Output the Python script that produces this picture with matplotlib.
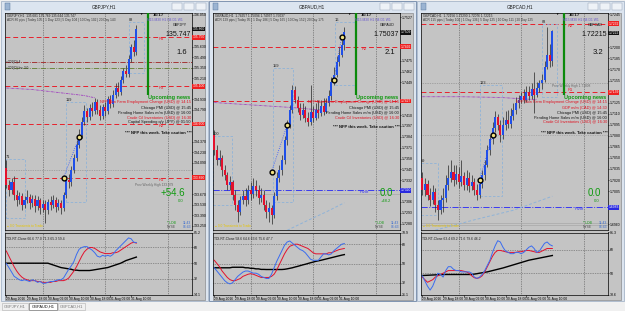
import numpy as np
import matplotlib
matplotlib.use("Agg")
import matplotlib.pyplot as plt
from matplotlib.patches import Rectangle

plt.rcParams['font.family'] = ['Liberation Sans', 'DejaVu Sans']

W, H = 625, 311

# shared H1 time axis: bar 0 = 29 Aug 10:00
date_pos = [0, 8, 16, 24, 32, 40, 48]
date_text = ["29 Aug 2016", "29 Aug 18:00", "30 Aug 02:00", "30 Aug 10:00",
             "30 Aug 18:00", "31 Aug 02:00", "31 Aug 10:00"]
day_breaks = [14, 38, 62]
news_bar = 54.5

# ---------------- GBPJPY ----------------
gj_open0 = 134.02
gj_close = [133.79, 133.73, 133.83, 133.66, 133.60, 133.65, 133.53, 133.60, 133.63, 133.56,
            133.61, 133.52, 133.60, 133.49, 133.54, 133.46, 133.57, 133.53, 133.60, 133.50,
            133.56, 133.49, 133.66, 133.86, 133.83, 133.99, 134.15, 134.33, 134.46, 134.63,
            134.77, 134.69, 134.82, 134.77, 134.89, 134.79, 134.71, 134.83, 134.77, 134.93,
            134.87, 134.99, 135.08, 135.03, 135.19, 135.30, 135.26, 135.46, 135.62, 135.56,
            135.86]
gj_high = [134.13, 133.86, 133.89, 133.91, 133.73, 133.70, 133.69, 133.65, 133.73, 133.67,
           133.66, 133.66, 133.65, 133.62, 133.60, 133.60, 133.61, 133.65, 133.66, 133.63,
           133.61, 133.60, 133.70, 133.91, 133.94, 134.05, 134.21, 134.39, 134.53, 134.70,
           134.85, 134.82, 134.87, 134.89, 134.95, 134.93, 134.85, 134.87, 134.90, 134.98,
           134.99, 135.06, 135.14, 135.16, 135.24, 135.35, 135.38, 135.52, 135.67, 135.72,
           135.91]
gj_low = [133.75, 133.65, 133.67, 133.60, 133.52, 133.54, 133.46, 133.49, 133.56, 133.48,
          133.50, 133.44, 133.46, 133.41, 133.44, 133.29, 133.41, 133.46, 133.49, 133.44,
          133.46, 133.41, 133.45, 133.62, 133.75, 133.78, 133.95, 134.11, 134.29, 134.42,
          134.59, 134.63, 134.65, 134.71, 134.73, 134.74, 134.66, 134.67, 134.71, 134.74,
          134.82, 134.83, 134.95, 134.98, 134.99, 135.14, 135.22, 135.22, 135.42, 135.51,
          135.52]
gj_rsi = [49.6, 45, 40, 35, 33, 31, 30, 31, 30, 29,
          31, 30, 28, 29, 27, 27, 28, 29, 29, 30,
          31, 31, 33, 38, 43, 47, 52, 60, 66, 68,
          69, 69, 67, 65, 62, 58, 57, 59, 58, 59,
          58, 60, 64, 67, 70, 73, 76, 79, 78, 74, 73.7]
gj_sig = [64, 58, 52, 46, 41, 37, 34, 32, 31, 30,
          30, 30, 29, 29, 28, 28, 28, 28, 29, 29,
          30, 30, 30, 31, 33, 37, 41, 46, 52, 58,
          63, 66, 68, 68, 67, 65, 63, 62, 61, 61,
          61, 62, 62, 63, 65, 67, 69, 71, 73, 74, 73]
gj_base = [50, 50, 50, 50, 50, 50, 50, 50, 50, 50,
           50, 50, 50, 50, 50, 50, 50, 49, 48, 47,
           46, 45, 44.5, 44, 43.5, 43, 42, 42, 41.6, 41.6,
           41.6, 41.6, 41.6, 42, 42.5, 43, 43.5, 44, 44.5, 45,
           46, 47, 48, 49, 50, 51.5, 53, 54, 55, 56, 57]
gj_res = [135.75, 135.10, 134.60, 133.89]
gj_res_names = ["R4", "R3", "R2", "R1"]
gj_swing_x = [22, 28]
gj_swing_y = [133.89, 134.43]
gj_ma_x = [0, 10, 20, 30, 34]
gj_ma_y = [135.08, 135.06, 135.02, 134.98, 134.95]

# ---------------- GBPAUD ----------------
ga_open0 = 1.7386
ga_close = [1.7368, 1.7356, 1.7359, 1.7344, 1.7338, 1.7326, 1.7330, 1.7314, 1.7302, 1.7294,
            1.7308, 1.7313, 1.7308, 1.7320, 1.7316, 1.7325, 1.7320, 1.7311, 1.7314, 1.7302,
            1.7294, 1.7299, 1.7290, 1.7313, 1.7335, 1.7344, 1.7356, 1.7380, 1.7398, 1.7416,
            1.7440, 1.7428, 1.7419, 1.7410, 1.7416, 1.7407, 1.7402, 1.7414, 1.7407, 1.7416,
            1.7412, 1.7421, 1.7414, 1.7424, 1.7433, 1.7450, 1.7458, 1.7474, 1.7482, 1.7494,
            1.7509]
ga_high = [1.7392, 1.7374, 1.7368, 1.7362, 1.7350, 1.7342, 1.7337, 1.7332, 1.7320, 1.7308,
           1.7313, 1.7320, 1.7323, 1.7326, 1.7330, 1.7335, 1.7332, 1.7326, 1.7323, 1.7320,
           1.7308, 1.7306, 1.7302, 1.7318, 1.7342, 1.7350, 1.7362, 1.7385, 1.7404, 1.7422,
           1.7446, 1.7445, 1.7433, 1.7424, 1.7424, 1.7421, 1.7414, 1.7446, 1.7421, 1.7424,
           1.7428, 1.7428, 1.7431, 1.7431, 1.7440, 1.7455, 1.7467, 1.7481, 1.7491, 1.7500,
           1.7515]
ga_low = [1.7362, 1.7350, 1.7349, 1.7337, 1.7332, 1.7320, 1.7320, 1.7308, 1.7296, 1.7282,
          1.7290, 1.7304, 1.7301, 1.7304, 1.7308, 1.7311, 1.7313, 1.7304, 1.7306, 1.7296,
          1.7287, 1.7282, 1.7280, 1.7287, 1.7308, 1.7330, 1.7338, 1.7352, 1.7374, 1.7395,
          1.7412, 1.7424, 1.7414, 1.7404, 1.7407, 1.7402, 1.7397, 1.7398, 1.7402, 1.7404,
          1.7407, 1.7409, 1.7410, 1.7412, 1.7421, 1.7428, 1.7446, 1.7455, 1.7469, 1.7479,
          1.7488]
ga_rsi = [46, 43, 40, 37, 34, 32, 31, 32, 35, 38,
          40, 42, 43, 43, 42, 41, 41, 40, 38, 37,
          36, 36, 40, 46, 52, 57, 62, 67, 70, 71,
          69, 67, 65, 63, 62, 60, 57, 54, 53, 53,
          53, 56, 59, 59, 58, 59, 62, 64, 66, 68, 68.6]
ga_sig = [53, 50, 47, 43, 40, 37, 35, 34, 34, 35,
          36, 38, 39, 40, 40.5, 40, 39, 38, 37, 37,
          37, 37, 38, 40, 44, 49, 54, 59, 63, 66,
          67, 68, 68, 67, 66, 65, 64, 62, 60, 59,
          59, 59, 59, 59, 60, 60, 61, 62, 63, 63.5, 64]
ga_base = [46, 46, 46, 46, 46, 46, 46, 46.5, 46.5, 46.5,
           46.5, 46.5, 46, 46, 45.5, 45.5, 45, 45, 44.5, 44.5,
           44.4, 44.4, 44.4, 44.4, 44.4, 44.4, 44.4, 44.6, 45, 45.5,
           46, 46.7, 47.3, 48, 48.7, 49.3, 50, 50.7, 51.3, 52,
           52.5, 53, 53.6, 54.2, 54.8, 55.4, 56, 56.6, 57.2, 57.8, 58.3]
ga_res = [1.7492, 1.7427]
ga_res_names = ["R2", ""]
ga_pivot = 1.7320
ga_swing_x = [22, 28, 46, 49]
ga_swing_y = [1.7342, 1.7398, 1.7452, 1.7504]
ga_ma_x = [0, 15, 30, 41]
ga_ma_y = [1.7425, 1.7422, 1.7419, 1.7416]
ga_ma2_x = [28, 36, 43, 50]
ga_ma2_y = [1.7272, 1.7284, 1.7294, 1.7305]

# ---------------- GBPCAD ----------------
gc_open0 = 1.7023
gc_close = [1.7007, 1.7015, 1.7000, 1.6993, 1.7004, 1.6986, 1.6979, 1.6993, 1.6996, 1.7013,
            1.7023, 1.7031, 1.7020, 1.7028, 1.7017, 1.7026, 1.7013, 1.7023, 1.7012, 1.7017,
            1.7007, 1.7000, 1.7015, 1.7027, 1.7041, 1.7061, 1.7075, 1.7091, 1.7105, 1.7095,
            1.7081, 1.7094, 1.7102, 1.7096, 1.7107, 1.7115, 1.7124, 1.7129, 1.7134, 1.7129,
            1.7140, 1.7134, 1.7143, 1.7136, 1.7145, 1.7151, 1.7156, 1.7174, 1.7190, 1.7181,
            1.7222]
gc_high = [1.7031, 1.7023, 1.7020, 1.7009, 1.7013, 1.7009, 1.6993, 1.7000, 1.7009, 1.7027,
           1.7041, 1.7047, 1.7041, 1.7041, 1.7037, 1.7047, 1.7031, 1.7034, 1.7031, 1.7027,
           1.7023, 1.7015, 1.7020, 1.7034, 1.7047, 1.7068, 1.7081, 1.7099, 1.7113, 1.7110,
           1.7102, 1.7105, 1.7113, 1.7115, 1.7118, 1.7124, 1.7132, 1.7136, 1.7140, 1.7143,
           1.7148, 1.7148, 1.7151, 1.7166, 1.7153, 1.7156, 1.7164, 1.7181, 1.7227, 1.7204,
           1.7224]
gc_low = [1.7000, 1.6998, 1.6993, 1.6985, 1.6988, 1.6977, 1.6966, 1.6974, 1.6977, 1.6990,
          1.7007, 1.7017, 1.7012, 1.7015, 1.7009, 1.7012, 1.7007, 1.7007, 1.7004, 1.7007,
          1.7000, 1.6993, 1.6996, 1.7009, 1.7020, 1.7037, 1.7054, 1.7069, 1.7085, 1.7088,
          1.7071, 1.7075, 1.7088, 1.7091, 1.7091, 1.7102, 1.7110, 1.7118, 1.7124, 1.7124,
          1.7126, 1.7129, 1.7130, 1.7111, 1.7132, 1.7140, 1.7143, 1.7153, 1.7170, 1.7173,
          1.7175]
gc_rsi = [48, 44, 40, 37, 40, 45, 50, 49, 47, 52,
          55, 55, 53, 52, 52, 51, 51, 51, 51, 50,
          47, 46, 47, 49, 52, 56, 60, 66, 71, 75,
          74, 70, 67, 66, 65, 65, 66, 66, 65, 66,
          68, 70, 71, 69, 66, 67, 70, 73, 74, 72, 71]
gc_sig = [47, 45, 43, 44, 45, 47, 48, 49, 50, 51,
          52, 52, 52, 52, 52, 52, 51.5, 51, 50, 48,
          46.5, 46, 46.5, 48, 51, 55, 59, 63, 66, 67.5,
          67.5, 67, 66.5, 66, 66, 66, 66, 66.5, 66.5, 67,
          67.5, 67.5, 67, 66.5, 66, 66, 67, 68, 69, 69, 69]
gc_base = [48.2, 48.3, 48.4, 48.5, 48.6, 48.7, 48.8, 48.9, 49, 49,
           49, 49, 49, 49, 49, 49, 49, 49, 49, 49,
           49.3, 49.6, 50, 50.3, 50.7, 51, 51.5, 52, 52.5, 53,
           53.5, 54, 54.6, 55.2, 55.8, 56.4, 57, 57.6, 58.2, 58.8,
           59.4, 60, 60.4, 60.8, 61.2, 61.6, 62, 62.4, 62.8, 63.2, 63.6]
gc_res = [1.7232, 1.7139]
gc_res_names = ["R2", "R1"]
gc_pivot = 1.6983
gc_swing_x = [22, 27]
gc_swing_y = [1.7020, 1.7081]
gc_ma_x = [0, 15, 30, 44]
gc_ma_y = [1.7133, 1.7133, 1.7132, 1.7129]
gc_ma2_x = [5, 20, 35, 50]
gc_ma2_y = [1.6952, 1.6966, 1.6979, 1.6998]

news_usd = [("NFP Non Farm Employment Change (USD) @ 14:15", 'r'),
            ("Chicago PMI (USD) @ 15:45", 'k'),
            ("Pending Home Sales m/m (USD) @ 16:00", 'k'),
            ("Crude Oil Inventories (USD) @ 16:30", 'r')]
news_jpy = news_usd + [("Capital Spending q/y (JPY) @ 01:50", 'k')]
news_cad = [news_usd[0], ("GDP m/m (CAD) @ 14:30", 'r')] + news_usd[1:]

GREY = '#c4c4c4'
BULL = '#1f4fe8'
BEAR = '#e3112d'
RED = '#e8202c'
NEWSRED = '#e01020'

fig = plt.figure(figsize=(6.25, 3.11), dpi=100)
fig.patch.set_facecolor('#f0f0f0')


def rect(x0, y0, x1, y1):
    return [x0 / W, 1 - y1 / H, (x1 - x0) / W, (y1 - y0) / H]


def ptext(x, y, s, **kw):
    kw.setdefault('fontsize', 2.6)
    kw.setdefault('va', 'center')
    kw.setdefault('zorder', 5)
    fig.text(x / W, 1 - y / H, s, **kw)


def fbox(x0, y0, x1, y1, **kw):
    kw.setdefault('zorder', -5)
    fig.add_artist(Rectangle((x0 / W, 1 - y1 / H), (x1 - x0) / W, (y1 - y0) / H,
                             transform=fig.transFigure, **kw))


def window(x0, title, active=False):
    # frame, title bar and buttons
    fbox(x0, 1, x0 + 207, 301, fc='#dce5f0', ec='#6f86a6' if active else '#a7b6c9', lw=0.6)
    ptext(x0 + 103, 6.5, title, ha='center', fontsize=3.3, color='#1a1a1a')
    fbox(x0 + 4, 3.5, x0 + 9, 9.5, fc='#9bb4d2', ec='#4f6f96', lw=0.3, zorder=-4)
    for bx in (x0 + 171, x0 + 183, x0 + 195):
        fbox(bx, 3, bx + 10, 10, fc='#eef2f7', ec='#8c9bb0', lw=0.3, zorder=-4)
    fbox(x0 + 4, 13, x0 + 204, 299.5, fc=GREY, ec='#7a7a7a', lw=0.4, zorder=-4)

    ax = fig.add_axes(rect(x0 + 4, 13, x0 + 191, 230))
    ax2 = fig.add_axes(rect(x0 + 4, 232.5, x0 + 191, 294.5))
    for a in (ax, ax2):
        a.set_facecolor(GREY)
        a.set_xlim(-0.5, 71.4)
        for s in a.spines.values():
            s.set_linewidth(0.5)
        a.yaxis.tick_right()
        a.tick_params(axis='y', length=1, width=0.4, labelsize=2.5, pad=0.6)
        for d in day_breaks:
            a.axvline(d, color='#4a4a4a', lw=0.5, ls=(0, (1, 1.5)), zorder=1)
    ax.set_xticks([])
    ax2.set_xticks(date_pos)
    ax2.set_xticklabels(date_text)
    ax2.tick_params(axis='x', length=1.2, width=0.4, labelsize=2.4, pad=0.6)
    for lab in ax2.get_xticklabels():
        lab.set_ha('left')
    return ax, ax2


def candles(ax, open0, close, high, low):
    c = np.array(close)
    o = np.r_[open0, c[:-1]]
    i = np.arange(len(c))
    up = c >= o
    ax.vlines(i, low, high, color='#333333', lw=0.55, zorder=3)
    ax.bar(i[up], c[up] - o[up], bottom=o[up], width=0.78, color=BULL, zorder=4)
    ax.bar(i[~up], o[~up] - c[~up], bottom=c[~up], width=0.78, color=BEAR, zorder=4)
    return c[-1]


def price_axis(ax, lo, hi, first, step, fmt, tags):
    # tick labels hidden where a coloured price tag sits on the scale
    ax.set_ylim(lo, hi)
    t = [v for v in np.arange(first, hi, step)
         if min(abs(v - g) for g in tags) > 0.75 * step]
    ax.set_yticks(t)
    ax.set_yticklabels([fmt % v for v in t])


def tag(ax, y, s, fc, tc='white'):
    ax.text(1.004, y, s, transform=ax.get_yaxis_transform(), fontsize=2.4, color=tc,
            va='center', ha='left', clip_on=False, zorder=8,
            bbox=dict(boxstyle='square,pad=0.08', fc=fc, ec='none'))


def box(ax, xa, xb, ya, yb, label):
    ax.add_patch(Rectangle((xa, ya), xb - xa, yb - ya, fill=False, ec='#8fb3d8',
                           lw=0.6, ls=(0, (3, 2)), zorder=2))
    ax.text(xa, yb, label, fontsize=2.8, color='#202020', va='bottom', ha='left', zorder=6)


def swings(ax, xs, ys):
    for k in range(0, len(xs), 2):
        ax.plot(xs[k:k + 2], ys[k:k + 2], ls=':', color='#3050ff', lw=0.6, zorder=5)
    ax.scatter(xs, ys, s=12, facecolor='#f0e080', edgecolor='black', lw=1.0, zorder=7)


def tdi(ax2, rsi, sig, base, lo, hi, header):
    i = np.arange(len(rsi))
    ax2.set_ylim(lo, hi)
    lev = [v for v in (68, 50, 32) if lo < v < hi]
    for v in lev:
        ax2.axhline(v, color='#555555', lw=0.5, ls=(0, (1, 1.5)), zorder=1)
    ax2.set_yticks([hi] + lev + [lo])
    ax2.set_yticklabels(['%g' % v for v in [hi] + lev + [lo]])
    ax2.plot(i, base, color='black', lw=1.0, zorder=3)
    ax2.plot(i, sig, color='#e3112d', lw=0.7, zorder=4)
    ax2.plot(i, rsi, color='#3a6cf0', lw=0.7, zorder=5)
    ax2.text(0.005, 0.93, header, transform=ax2.transAxes, fontsize=2.4,
             color='#202020', va='top')


def header(x0, line1, line2, sym, clock):
    ptext(x0 + 6, 15.5, line1, fontsize=2.3, color='#202020')
    ptext(x0 + 6, 20, line2, fontsize=2.3, color='#3a3a3a')
    ptext(x0 + 140, 14.3, '\u25bc', fontsize=2.4, ha='center', color='black')
    ptext(x0 + 152, 15, clock, fontsize=3.2, fontweight='bold', color='#101010')
    ptext(x0 + 146, 19.8, 'M15 M30 H1 H4 D1 W1', fontsize=2.4, color='#6a5acd')
    ptext(x0 + 186, 24.5, sym, fontsize=2.6, ha='right', color='#101010')


def news(x0, items, pct, spread):
    ptext(x0 + 189, 97, 'Upcoming news', ha='right', fontsize=4.0,
          fontweight='bold', color='#119911')
    y = 102.5
    for txt, col in items:
        ptext(x0 + 190, y, txt, ha='right', fontsize=2.8,
              color=NEWSRED if col == 'r' else '#111111')
        y += 5
    ptext(x0 + 157, y + 5, '*** NFP this week. Take caution ***', ha='center',
          fontsize=3.0, fontweight='bold', color='#111111')
    ptext(x0 + 190, 34, pct, ha='right', fontsize=5, color='#111111')
    ptext(x0 + 186, 52.5, spread, ha='right', fontsize=5.5, color='#111111')


def clocks(x0, big, small):
    ptext(x0 + 184, 193, big, ha='right', fontsize=7, color='#0f9a0f')
    ptext(x0 + 182, 201, small, ha='right', fontsize=3.0, color='#0f9a0f')
    ptext(x0 + 166, 223, '* LDB', fontsize=2.4, color='#119911')
    ptext(x0 + 190, 223, '11:43', fontsize=2.4, ha='right', color='#3a6cd0')
    ptext(x0 + 166, 227.5, 'NYSE', fontsize=2.4, color='#555555')
    ptext(x0 + 190, 227.5, '06:43', fontsize=2.4, ha='right', color='#3a6cd0')
    ptext(x0 + 6, 226, '\u25cf 0.0 Transients to Trade', fontsize=2.3, color='#e8c400')


# ================= window 1: GBPJPY =================
x0 = 1
ax, ax2 = window(x0, "GBPJPY,H1")
last = candles(ax, gj_open0, gj_close, gj_high, gj_low)
price_axis(ax, 133.196, 136.075, 133.25, 0.14, '%.3f', gj_res + [last])
for lv, nm in zip(gj_res, gj_res_names):
    ax.axhline(lv, color=RED, lw=0.7, ls=(0, (5, 3)), zorder=2)
    ax.text(58.5, lv, nm, color=RED, fontsize=3.0, va='top', zorder=6)
    tag(ax, lv, '%.3f' % lv, '#ee2020')
ax.axhline(135.42, color='#a02020', lw=0.6, ls='-.', zorder=2)
ax.axhline(135.35, color='#5f7d2c', lw=0.6, ls='-.', zorder=2)
ax.text(0, 135.42, '=200(D) 4', fontsize=2.3, va='center', color='#202020')
ax.text(0, 135.35, '=200(D) Inc 3.0', fontsize=2.3, va='center', color='#202020')
ax.axhline(133.99, color='#808080', lw=0.5, ls=(0, (1, 1.5)), zorder=2)
ax.text(49.5, 133.815, 'Prev Weekly High 133.979', fontsize=2.3, color='#666666', va='top')
ax.plot(gj_ma_x, gj_ma_y, color='#a040c0', lw=0.6, ls=(0, (3, 1, 1, 1)), zorder=2)
box(ax, -0.1, 7.3, 133.36, 134.14, '71')
box(ax, 23, 30.7, 133.57, 134.90, '119')
box(ax, 47.2, 53, 135.28, 135.95, '88')
swings(ax, gj_swing_x, gj_swing_y)
ax.vlines(news_bar, 134.99, 136.075, color='#0b8a0b', lw=1.6, zorder=5)
tag(ax, last, '%.3f' % last, '#101010')
tdi(ax2, gj_rsi, gj_sig, gj_base, 14.1, 85.2, 'TDI-RT-Clone 66.6 77.0 71.3 65.3 59.4')
header(x0, 'GBPJPY,H1  135.681 135.769 135.644 135.747',
       'ADR 80 pips | Today 105 | 1 Day 123 | 5 Day 104 | 10 Day 102 | 20 Day 143',
       'GBPJPY', '16:17')
news(x0, news_jpy, '135.747', '1.6')
clocks(x0, '+54.6', '0.0')

# ================= window 2: GBPAUD =================
x0 = 209
ax, ax2 = window(x0, "GBPAUD,H1", active=True)
last = candles(ax, ga_open0, ga_close, ga_high, ga_low)
price_axis(ax, 1.72724, 1.75322, 1.7280, 0.0013, '%.4f', ga_res + [ga_pivot, last])
for lv, nm in zip(ga_res, ga_res_names):
    ax.axhline(lv, color=RED, lw=0.7, ls=(0, (5, 3)), zorder=2)
    if nm:
        ax.text(56.5, lv, nm, color=RED, fontsize=3.0, va='top', zorder=6)
    tag(ax, lv, '%.4f' % lv, '#ee2020')
ax.axhline(ga_pivot, color='#3a3af0', lw=0.7, ls='-.', zorder=2)
ax.axhline(1.7316, color='#a8a8a8', lw=0.5, zorder=2)
ax.text(56, ga_pivot, 'Pivot', color='#3a3af0', fontsize=3.0, va='top', zorder=6)
tag(ax, ga_pivot, '%.4f' % ga_pivot, '#2a2ae0')
ax.plot(ga_ma_x, ga_ma_y, color='#a040c0', lw=0.6, ls=(0, (3, 1, 1, 1)), zorder=2)
ax.plot(ga_ma2_x, ga_ma2_y, color='#8fb3d8', lw=0.7, ls=(0, (3, 2)), zorder=2)
box(ax, -0.5, 6.8, 1.7302, 1.7385, '100')
box(ax, 22.6, 30.3, 1.7306, 1.7466, '159')
box(ax, 46.4, 54.1, 1.7446, 1.7521, '16')
swings(ax, ga_swing_x, ga_swing_y)
ax.vlines(news_bar, 1.7434, 1.75322, color='#0b8a0b', lw=1.6, zorder=5)
tag(ax, last, '%.4f' % last, '#101010')
tdi(ax2, ga_rsi, ga_sig, ga_base, 21.1, 78.9, 'TDI-RT-Clone 58.6 64.6 63.6 75.6 47.7')
header(x0, 'GBPAUD,H1  1.74957 1.75094 1.74937 1.75037',
       'ADR 129 pips | Today 95 | 1 Day 186 | 5 Day 165 | 10 Day 152 | 20 Day 175',
       'GBPAUD', '16:17')
news(x0, news_usd, '1.75037', '2.1')
clocks(x0, '0.0', '+48.2')

# ================= window 3: GBPCAD =================
x0 = 417
ax, ax2 = window(x0, "GBPCAD,H1")
last = candles(ax, gc_open0, gc_close, gc_high, gc_low)
price_axis(ax, 1.69522, 1.72466, 1.6960, 0.0015, '%.4f', gc_res + [gc_pivot, last])
for lv, nm, va in zip(gc_res, gc_res_names, ['top', 'bottom']):
    ax.axhline(lv, color=RED, lw=0.7, ls=(0, (5, 3)), zorder=2)
    ax.text(56, lv, nm, color=RED, fontsize=3.0, va=va, zorder=6)
    tag(ax, lv, '%.4f' % lv, '#ee2020')
ax.axhline(1.7152, color='#808080', lw=0.5, ls=(0, (1, 1.5)), zorder=2)
ax.text(50, 1.7150, 'Prev Weekly High 1.71808', fontsize=2.3, color='#666666', va='top')
ax.axhline(1.7081, color='#909090', lw=0.5, ls=(0, (1, 1.5)), zorder=2)
ax.axhline(gc_pivot, color='#3a3af0', lw=0.7, ls='-.', zorder=2)
ax.text(58.5, gc_pivot, 'Pivot', color='#3a3af0', fontsize=3.0, va='top', zorder=6)
tag(ax, gc_pivot, '%.4f' % gc_pivot, '#2a2ae0')
ax.axhline(1.6962, color='#a8a8a8', lw=0.5, zorder=2)
ax.axhline(1.6959, color='#a8a8a8', lw=0.5, zorder=2)
ax.plot(gc_ma_x, gc_ma_y, color='#a040c0', lw=0.6, ls=(0, (3, 1, 1, 1)), zorder=2)
ax.plot(gc_ma2_x, gc_ma2_y, color='#8fb3d8', lw=0.7, ls=(0, (3, 2)), zorder=2)
box(ax, -0.5, 6, 1.6973, 1.7043, '69')
box(ax, 22.2, 30.7, 1.6998, 1.7149, '123')
box(ax, 46, 51.6, 1.7133, 1.7231, '83')
swings(ax, gc_swing_x, gc_swing_y)
ax.vlines(news_bar, 1.7136, 1.72466, color='#0b8a0b', lw=1.6, zorder=5)
ax.text(1.004, last, '%.4f' % last, transform=ax.get_yaxis_transform(), fontsize=2.4,
        color='white', va='top', ha='left', clip_on=False, zorder=8,
        bbox=dict(boxstyle='square,pad=0.08', fc='#101010', ec='none'))
tdi(ax2, gc_rsi, gc_sig, gc_base, 33.6, 81.3, 'TDI-RT-Clone 63.4 69.2 71.6 79.6 46.2')
header(x0, 'GBPCAD,H1  1.72156 1.72290 1.72076 1.72215',
       'ADR 115 pips | Today 106 | 1 Day 136 | 5 Day 125 | 10 Day 111 | 20 Day 125',
       'GBPCAD', '16:17')
news(x0, news_cad, '1.72215', '3.2')
clocks(x0, '0.0', '0.0')

# ================= bottom tabs =================
tabs = [("GBPJPY,H1", 2, 28), ("GBPAUD,H1", 29, 57), ("GBPCAD,H1", 58, 85)]
for name, ta, tb in tabs:
    on = name == "GBPAUD,H1"
    fbox(ta, 303, tb, 310, fc='white' if on else '#f0f0f0',
         ec='#555555' if on else '#b0b0b0', lw=0.4)
    ptext((ta + tb) / 2, 306.5, name, ha='center', fontsize=2.9,
          color='#111111' if on else '#777777')

fig.savefig('out.png', dpi=100, facecolor=fig.get_facecolor())
